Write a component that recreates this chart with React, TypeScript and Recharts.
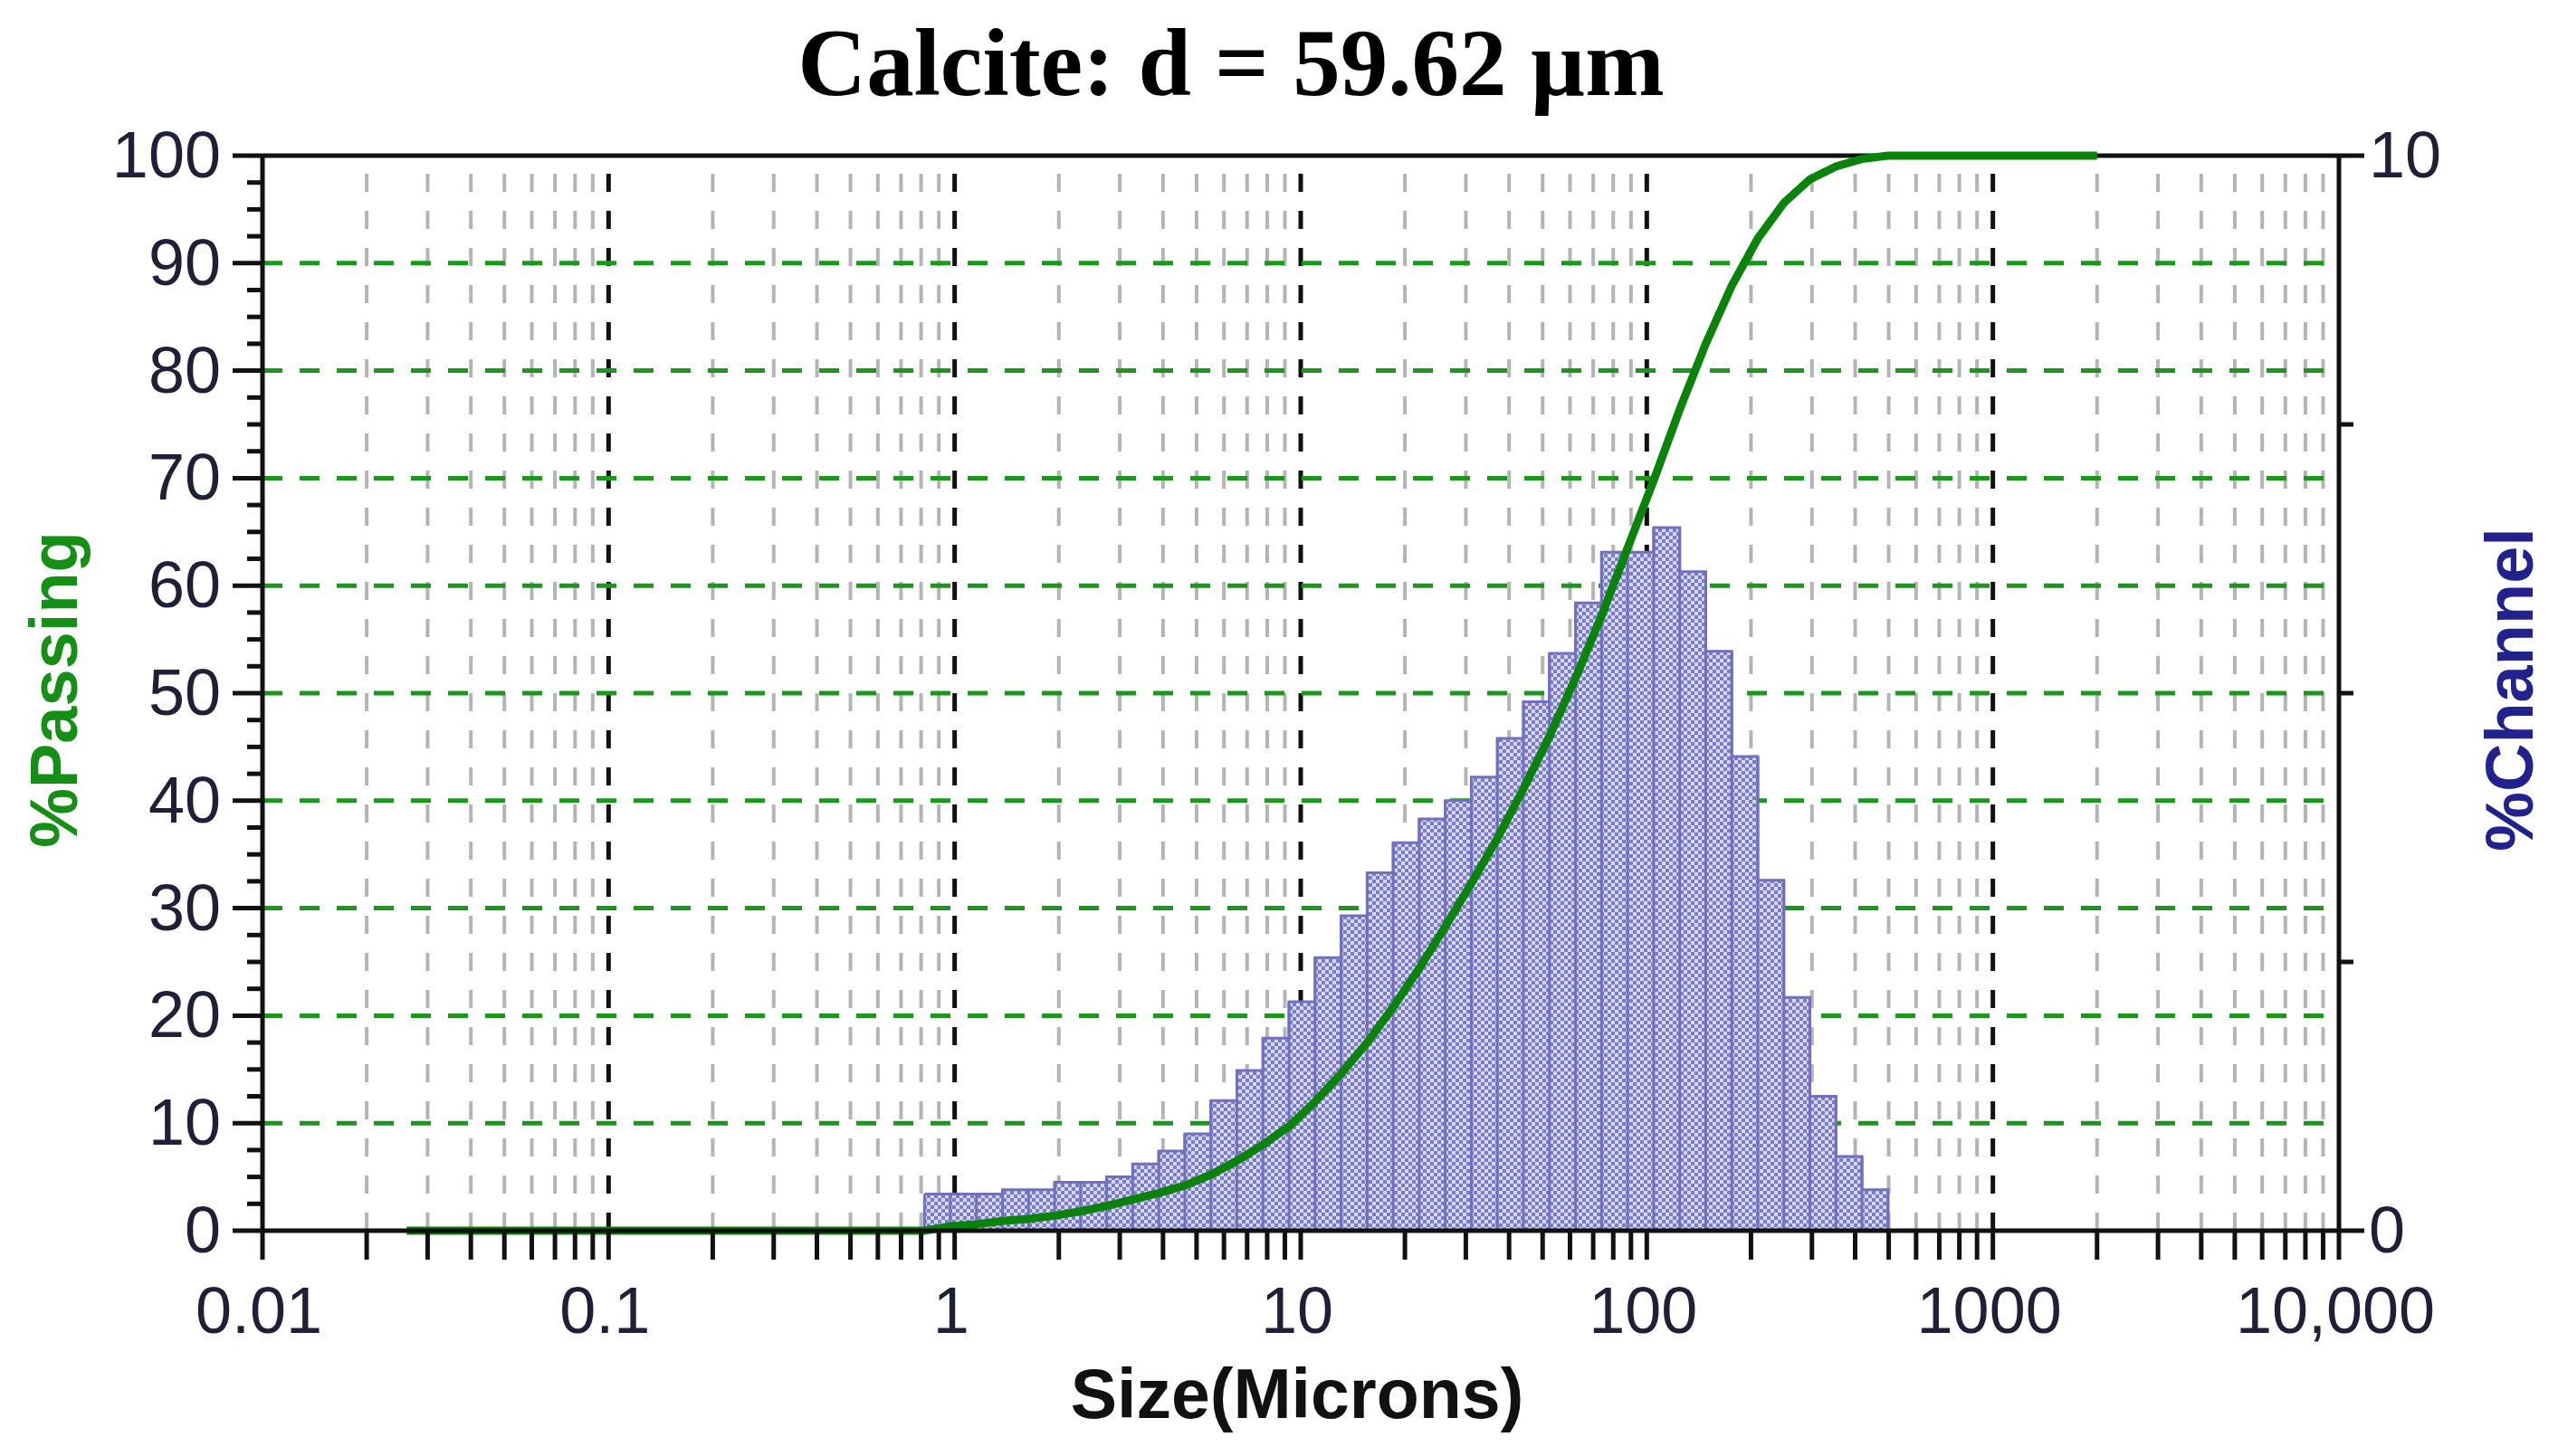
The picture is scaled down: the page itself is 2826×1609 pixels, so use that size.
import React from "react";
import {
  ComposedChart,
  Line,
  Area,
  XAxis,
  YAxis,
  ReferenceLine,
  Label,
} from "recharts";

// ---- data ----
const channelEdges = [
  0.818, 0.972, 1.156, 1.375, 1.635, 1.945, 2.312, 2.75, 3.27, 3.889, 4.625,
  5.5, 6.541, 7.778, 9.25, 11, 13.08, 15.56, 18.5, 22, 26.16, 31.11, 37, 44,
  52.33, 62.23, 74, 88, 104.7, 124.5, 148, 176, 209.3, 248.9, 296, 352, 418.6,
  497.8,
];
const channelPercent = [
  0.34, 0.34, 0.34, 0.38, 0.38, 0.45, 0.45, 0.5, 0.62, 0.74, 0.9, 1.21, 1.49,
  1.79, 2.13, 2.54, 2.93, 3.33, 3.61, 3.83, 4.0, 4.22, 4.58, 4.92, 5.37, 5.84,
  6.31, 6.31, 6.54, 6.13, 5.39, 4.41, 3.26, 2.17, 1.25, 0.69, 0.38,
];
const passingSizes = [
  0.0261, 0.818, 0.972, 1.156, 1.375, 1.635, 1.945, 2.312, 2.75, 3.27, 3.889,
  4.625, 5.5, 6.541, 7.778, 9.25, 11, 13.08, 15.56, 18.5, 22, 26.16, 31.11, 37,
  44, 52.33, 62.23, 74, 88, 104.7, 124.5, 148, 176, 209.3, 248.9, 296, 352,
  418.6, 497.8, 2000,
];
const passingValues = [
  0, 0, 0.4, 0.6, 0.9, 1.1, 1.4, 1.8, 2.3, 2.9, 3.5, 4.2, 5.2, 6.5, 8.0, 9.7,
  12.0, 14.6, 17.5, 20.8, 24.4, 28.3, 32.3, 36.5, 41.1, 46.0, 51.4, 57.2, 63.5,
  69.8, 76.4, 82.5, 87.9, 92.3, 95.6, 97.8, 99.0, 99.7, 100, 100,
];

const xTicks = [
  0.01, 0.02, 0.03, 0.04, 0.05, 0.06, 0.07, 0.08, 0.09,
  0.1, 0.2, 0.3, 0.4, 0.5, 0.6, 0.7, 0.8, 0.9,
  1, 2, 3, 4, 5, 6, 7, 8, 9,
  10, 20, 30, 40, 50, 60, 70, 80, 90,
  100, 200, 300, 400, 500, 600, 700, 800, 900,
  1000, 2000, 3000, 4000, 5000, 6000, 7000, 8000, 9000,
  10000,
];
const xDecades = [0.01, 0.1, 1, 10, 100, 1000, 10000];
const xDecadeLabels = ["0.01", "0.1", "1", "10", "100", "1000", "10,000"];
const majorGridX = [0.1, 1, 10, 100, 1000];
const leftTicks = [
  0, 2.5, 5, 7.5, 10, 12.5, 15, 17.5, 20, 22.5, 25, 27.5, 30, 32.5, 35, 37.5,
  40, 42.5, 45, 47.5, 50, 52.5, 55, 57.5, 60, 62.5, 65, 67.5, 70, 72.5, 75,
  77.5, 80, 82.5, 85, 87.5, 90, 92.5, 95, 97.5, 100,
];
const leftLabelled = [0, 10, 20, 30, 40, 50, 60, 70, 80, 90, 100];
const rightTicks = [0, 2.5, 5, 7.5, 10];
const rightLabelled = [0, 10];
const greenGridY = [10, 20, 30, 40, 50, 60, 70, 80, 90];

const curveData = passingSizes.map((s, i) => ({ size: s, passing: passingValues[i] }));
// step outline of the histogram: each channel's value starts at its lower edge
const histData = [
  ...channelPercent.map((p, i) => ({ size: channelEdges[i], pct: p })),
  { size: channelEdges[channelEdges.length - 1], pct: 0 },
];
// vertical dividers between channels, up to the taller neighbour
const dividers = channelEdges.map((e, i) => ({
  x: e,
  top: Math.max(channelPercent[i - 1] ?? 0, channelPercent[i] ?? 0),
}));

const SANS = "'Liberation Sans', Arial, sans-serif";
const TICK_COLOR = "#1f1f38";
const AXIS = "#111111";
const BAR_EDGE = "#7070bf";

const LeftTick = (props: any) => {
  const { x, y, payload } = props;
  const v = payload.value;
  const major = leftLabelled.includes(v);
  return (
    <g>
      <line x1={x - (major ? 33 : 17)} x2={x} y1={y} y2={y} stroke={AXIS} strokeWidth={5} />
      {major && (
        <text x={x - 46} y={y + 24} textAnchor="end" fontSize={72} fontFamily={SANS} fill={TICK_COLOR}>
          {v}
        </text>
      )}
    </g>
  );
};

const RightTick = (props: any) => {
  const { x, y, payload } = props;
  const v = payload.value;
  const major = rightLabelled.includes(v);
  return (
    <g>
      <line x1={x} x2={x + (major ? 28 : 16)} y1={y} y2={y} stroke={AXIS} strokeWidth={5} />
      {major && (
        <text x={x + 33} y={y + 24} textAnchor="start" fontSize={72} fontFamily={SANS} fill={TICK_COLOR}>
          {v}
        </text>
      )}
    </g>
  );
};

const BottomTick = (props: any) => {
  const { x, y, payload } = props;
  const v = payload.value;
  const idx = xDecades.indexOf(v);
  return (
    <g>
      <line x1={x} x2={x} y1={y} y2={y + 32} stroke={AXIS} strokeWidth={5} />
      {idx >= 0 && (
        <text x={x - 4} y={y + 113} textAnchor="middle" fontSize={72} fontFamily={SANS} fill={TICK_COLOR}>
          {xDecadeLabels[idx]}
        </text>
      )}
    </g>
  );
};

const Titles = () => (
  <g>
    <text
      x={1352}
      y={97}
      textAnchor="middle"
      fontSize={105}
      fontWeight="bold"
      fontFamily="'Liberation Serif', 'Times New Roman', serif"
      fill="#000"
    >
      Calcite: d = 59.62 µm
    </text>
    <text x={1425} y={1559} textAnchor="middle" fontSize={77} fontWeight="bold" fontFamily={SANS} fill="#111">
      Size(Microns)
    </text>
    <text
      x={77}
      y={754}
      textAnchor="middle"
      fontSize={74}
      fontWeight="bold"
      fontFamily={SANS}
      fill="#168f16"
      transform="rotate(-90 77 754)"
    >
      %Passing
    </text>
    <text
      x={2790}
      y={754}
      textAnchor="middle"
      fontSize={74}
      fontWeight="bold"
      fontFamily={SANS}
      fill="#22228e"
      transform="rotate(-90 2790 754)"
    >
      %Channel
    </text>
  </g>
);

export default function App() {
  return (
    <div style={{ width: 2810, height: 1593, background: "#fff" }}>
      <ComposedChart
        width={2810}
        height={1593}
        data={curveData}
        margin={{ top: 164, right: 54, bottom: 121, left: 102 }}
      >
        <defs>
          <pattern id="chk" width="8" height="8" patternUnits="userSpaceOnUse">
            <rect width="8" height="8" fill="#d6d6f5" />
            <rect width="4" height="4" fill="#7c7cc6" />
            <rect x="4" y="4" width="4" height="4" fill="#7c7cc6" />
          </pattern>
        </defs>
        <XAxis
          dataKey="size"
          type="number"
          scale="log"
          domain={[0.01, 10000]}
          allowDataOverflow
          ticks={xTicks}
          interval={0}
          height={120}
          tickSize={0}
          tickMargin={0}
          tickLine={false}
          axisLine={{ stroke: AXIS, strokeWidth: 5 }}
          tick={<BottomTick />}
        >
          <Label content={() => <Titles />} />
        </XAxis>
        <YAxis
          yAxisId="left"
          orientation="left"
          type="number"
          domain={[0, 100]}
          ticks={leftTicks}
          interval={0}
          width={180}
          tickSize={0}
          tickMargin={0}
          tickLine={false}
          axisLine={{ stroke: AXIS, strokeWidth: 5 }}
          tick={<LeftTick />}
        />
        <YAxis
          yAxisId="right"
          orientation="right"
          type="number"
          domain={[0, 10]}
          ticks={rightTicks}
          interval={0}
          width={180}
          tickSize={0}
          tickMargin={0}
          tickLine={false}
          axisLine={{ stroke: AXIS, strokeWidth: 5 }}
          tick={<RightTick />}
        />

        {xTicks
          .filter((v) => !xDecades.includes(v))
          .map((v) => (
            <ReferenceLine
              key={"mg" + v}
              x={v}
              yAxisId="left"
              stroke="#b4b4b4"
              strokeWidth={4}
              strokeDasharray="20 21"
              zIndex={-60}
            />
          ))}
        {majorGridX.map((v) => (
          <ReferenceLine
            key={"MG" + v}
            x={v}
            yAxisId="left"
            stroke="#111"
            strokeWidth={5}
            strokeDasharray="20 21"
            zIndex={-60}
          />
        ))}
        {greenGridY.map((v) => (
          <ReferenceLine
            key={"gy" + v}
            y={v}
            yAxisId="left"
            stroke="#1d961d"
            strokeWidth={5}
            strokeDasharray="22 19"
            zIndex={-60}
          />
        ))}

        <Area
          data={histData}
          yAxisId="right"
          dataKey="pct"
          type="stepAfter"
          fill="url(#chk)"
          fillOpacity={1}
          stroke={BAR_EDGE}
          strokeWidth={3}
          dot={false}
          activeDot={false}
          isAnimationActive={false}
        />
        {dividers.map((d, i) => (
          <ReferenceLine
            key={"dv" + i}
            yAxisId="right"
            segment={[
              { x: d.x, y: 0 },
              { x: d.x, y: d.top },
            ]}
            stroke={BAR_EDGE}
            strokeWidth={3}
            zIndex={150}
          />
        ))}
        <ReferenceLine y={100} yAxisId="left" stroke={AXIS} strokeWidth={5} />

        <Line
          yAxisId="left"
          dataKey="passing"
          type="linear"
          stroke="#0b830b"
          strokeWidth={9}
          dot={false}
          activeDot={false}
          isAnimationActive={false}
        />
      </ComposedChart>
    </div>
  );
}
